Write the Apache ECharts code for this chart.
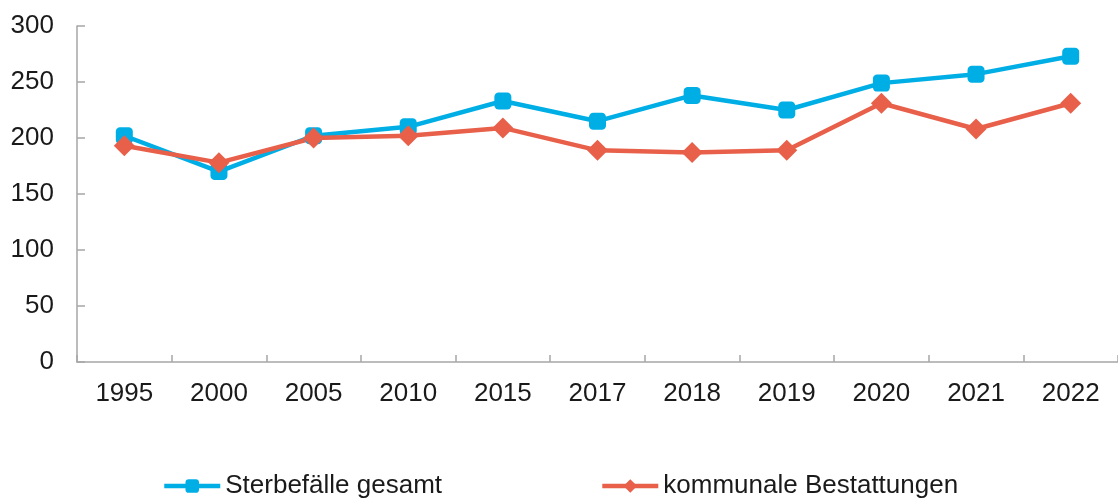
<!DOCTYPE html>
<html>
<head>
<meta charset="utf-8">
<script src="https://cdn.jsdelivr.net/npm/echarts@6/dist/echarts.min.js"></script>
<style>
  html, body { margin: 0; padding: 0; background: #ffffff; }
  #chart { width: 1118px; height: 499px; }
</style>
</head>
<body>
<div id="chart"></div>
<script>
// Jahre auf der x-Achse
const years = ['1995', '2000', '2005', '2010', '2015', '2017', '2018', '2019', '2020', '2021', '2022'];
// Sterbefälle insgesamt
const sterbefaelle = [202, 170, 202, 210, 233, 215, 238, 225, 249, 257, 273];
// davon kommunale Bestattungen
const kommunal = [193, 178, 200, 202, 209, 189, 187, 189, 231, 208, 231];

const seriesNames = ['Sterbefälle gesamt', 'kommunale Bestattungen'];
const FONT = '"Liberation Sans", Arial, sans-serif';
const axisGrey = '#a6a6a6';

const chart = echarts.init(document.getElementById('chart'), null, { renderer: 'canvas' });

chart.setOption({
  animation: false,
  backgroundColor: '#ffffff',
  textStyle: { fontFamily: FONT },
  grid: { left: 77, right: 0, top: 26, bottom: 137, containLabel: false },
  legend: {
    left: 162,
    top: 473,
    padding: 0,
    itemWidth: 56,
    itemHeight: 17,
    itemGap: 158,
    lineStyle: { width: 4.5 },
    textStyle: { fontFamily: FONT, fontSize: 26, color: '#1a1a1a' },
    data: seriesNames
  },
  xAxis: {
    type: 'category',
    data: years,
    boundaryGap: true,
    axisLine: { lineStyle: { color: axisGrey, width: 1.5 } },
    axisTick: { show: true, inside: true, length: 7, interval: 0, lineStyle: { color: axisGrey, width: 1.5 } },
    axisLabel: { interval: 0, fontFamily: FONT, fontSize: 26, color: '#1a1a1a', margin: 19 },
    splitLine: { show: false }
  },
  yAxis: {
    type: 'value',
    min: 0,
    max: 300,
    interval: 50,
    axisLine: { show: true, lineStyle: { color: axisGrey, width: 1.5 } },
    axisTick: { show: true, inside: true, length: 8, lineStyle: { color: axisGrey, width: 1.5 } },
    axisLabel: { fontFamily: FONT, fontSize: 26, color: '#1a1a1a', margin: 23 },
    splitLine: { show: false }
  },
  series: [
    {
      name: seriesNames[0],
      type: 'line',
      data: sterbefaelle,
      color: '#00aee6',
      symbol: 'roundRect',
      symbolSize: 17,
      showAllSymbol: true,
      lineStyle: { width: 4.5, color: '#00aee6' },
      itemStyle: { color: '#00aee6' }
    },
    {
      name: seriesNames[1],
      type: 'line',
      data: kommunal,
      color: '#e8604a',
      symbol: 'diamond',
      symbolSize: 21,
      showAllSymbol: true,
      lineStyle: { width: 4.5, color: '#e8604a' },
      itemStyle: { color: '#e8604a' }
    }
  ]
});
</script>
</body>
</html>
